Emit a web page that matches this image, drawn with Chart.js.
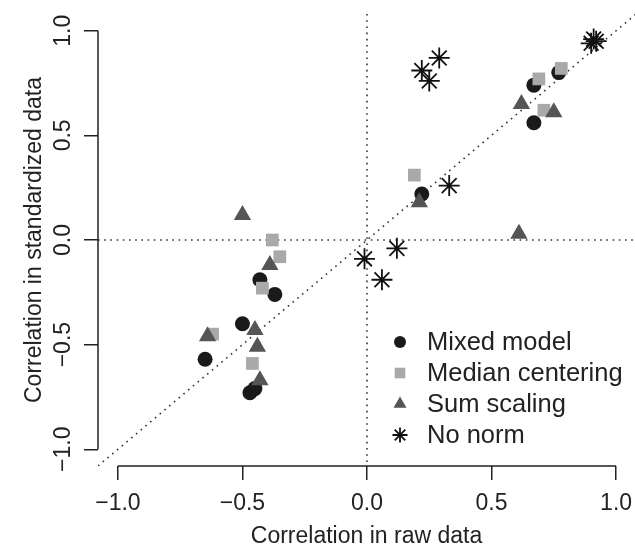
<!DOCTYPE html>
<html>
<head>
<meta charset="utf-8">
<script src="https://cdn.jsdelivr.net/npm/chart.js@4/dist/chart.umd.min.js"></script>
<style>
  html, body { margin: 0; padding: 0; background: #fff; }
  canvas { display: block; }
</style>
</head>
<body>
<canvas id="corrChart" width="635" height="550"></canvas>
<script>
// Values
const seriesNames = ['Mixed model', 'Median centering', 'Sum scaling', 'No norm'];

const mixedX = [-0.43, -0.37, -0.50, -0.65, -0.45, -0.47, 0.22, 0.67, 0.67, 0.77];
const mixedY = [-0.19, -0.26, -0.40, -0.57, -0.71, -0.73, 0.22, 0.56, 0.74, 0.80];

const medianX = [-0.38, -0.35, -0.42, -0.62, -0.46, 0.19, 0.69, 0.71, 0.78];
const medianY = [0.00, -0.08, -0.23, -0.45, -0.59, 0.31, 0.77, 0.62, 0.82];

const sumX = [-0.50, -0.39, -0.45, -0.64, -0.44, -0.43, 0.21, 0.61, 0.62, 0.75];
const sumY = [0.12, -0.12, -0.43, -0.46, -0.51, -0.67, 0.18, 0.03, 0.65, 0.61];

const noNormX = [-0.01, 0.06, 0.12, 0.33, 0.22, 0.25, 0.29, 0.90, 0.91, 0.92];
const noNormY = [-0.09, -0.19, -0.04, 0.26, 0.81, 0.76, 0.87, 0.94, 0.96, 0.95];

const xTicks = [-1, -0.5, 0, 0.5, 1];
const yTicks = [-1, -0.5, 0, 0.5, 1];

const FONT = "'Liberation Sans', Arial, Helvetica, sans-serif";
const INK = '#222';

function toPoints(xs, ys) {
    return xs.map((v, i) => ({ x: v, y: ys[i] }));
}

function fmtTick(v) {
    return v.toFixed(1).replace('-', '\u2212');
}

// marker look per series (also used by the legend)
const markers = [
    { pointStyle: 'circle',   radius: 7.5, legendRadius: 6,   fill: '#1a1a1a', stroke: '#1a1a1a', width: 0 },
    { pointStyle: 'rect',     radius: 9,   legendRadius: 7.5, fill: '#a9a9a9', stroke: '#a9a9a9', width: 0 },
    { pointStyle: 'triangle', radius: 10,  legendRadius: 7.5, fill: '#555555', stroke: '#555555', width: 0 },
    { pointStyle: 'star',     radius: 10.5, legendRadius: 7.5, fill: 'rgba(0,0,0,0)', stroke: '#111', width: 1.8 }
];

const seriesData = [
    toPoints(mixedX, mixedY),
    toPoints(medianX, medianY),
    toPoints(sumX, sumY),
    toPoints(noNormX, noNormY)
];

// dotted reference lines: y = x, x = 0, y = 0
const refLines = {
    id: 'refLines',
    beforeDatasetsDraw(chart) {
        const { ctx, chartArea: a, scales: { x, y } } = chart;
        ctx.save();
        ctx.beginPath();
        ctx.rect(a.left, a.top, a.right - a.left, a.bottom - a.top);
        ctx.clip();
        ctx.strokeStyle = '#333';
        ctx.lineWidth = 1.6;
        ctx.setLineDash([1.6, 4.6]);

        ctx.beginPath();
        const lo = Math.min(x.min, y.min), hi = Math.max(x.max, y.max);
        ctx.moveTo(x.getPixelForValue(lo), y.getPixelForValue(lo));
        ctx.lineTo(x.getPixelForValue(hi), y.getPixelForValue(hi));
        ctx.stroke();

        ctx.beginPath();
        ctx.moveTo(x.getPixelForValue(0), a.top);
        ctx.lineTo(x.getPixelForValue(0), a.bottom);
        ctx.stroke();

        ctx.beginPath();
        ctx.moveTo(a.left, y.getPixelForValue(0));
        ctx.lineTo(a.right, y.getPixelForValue(0));
        ctx.stroke();
        ctx.restore();
    }
};

// R-style axis lines that only run from the first to the last tick, plus the legend
const axesAndLegend = {
    id: 'axesAndLegend',
    afterDraw(chart) {
        const { ctx, chartArea: a, scales: { x, y } } = chart;
        ctx.save();
        ctx.strokeStyle = INK;
        ctx.lineWidth = 1.5;
        ctx.beginPath();
        ctx.moveTo(x.getPixelForValue(xTicks[0]), a.bottom);
        ctx.lineTo(x.getPixelForValue(xTicks[xTicks.length - 1]), a.bottom);
        ctx.moveTo(a.left, y.getPixelForValue(yTicks[0]));
        ctx.lineTo(a.left, y.getPixelForValue(yTicks[yTicks.length - 1]));
        ctx.stroke();

        // legend
        const symX = 400, textX = 427, rowY = [342, 373, 404, 435];
        ctx.font = '25.5px ' + FONT;
        ctx.textBaseline = 'middle';
        ctx.textAlign = 'left';
        seriesNames.forEach((name, i) => {
            const m = markers[i];
            ctx.fillStyle = m.fill;
            ctx.strokeStyle = m.stroke;
            ctx.lineWidth = m.width || 1.3;
            Chart.helpers.drawPoint(ctx, {
                pointStyle: m.pointStyle,
                radius: m.legendRadius,
                rotation: 0,
                borderWidth: m.width
            }, symX, rowY[i]);
            ctx.fillStyle = INK;
            ctx.fillText(name, textX, rowY[i] + 1);
        });
        ctx.restore();
    }
};

new Chart(document.getElementById('corrChart'), {
    type: 'scatter',
    data: {
        datasets: seriesNames.map((name, i) => ({
            label: name,
            data: seriesData[i],
            pointStyle: markers[i].pointStyle,
            pointRadius: markers[i].radius,
            backgroundColor: markers[i].fill,
            borderColor: markers[i].stroke,
            borderWidth: markers[i].width,
            order: seriesNames.length - i
        }))
    },
    options: {
        responsive: false,
        animation: false,
        events: [],
        layout: { padding: { top: 14, right: 0, bottom: 0, left: 0 }, autoPadding: false },
        plugins: {
            legend: { display: false },
            tooltip: { enabled: false }
        },
        scales: {
            x: {
                type: 'linear',
                min: -1.08,
                max: 1.076,
                afterBuildTicks: (scale) => { scale.ticks = xTicks.map(v => ({ value: v })); },
                afterFit: (scale) => {
                    scale.height = 84;
                    scale.paddingLeft = 0;
                    scale.paddingRight = 0;
                },
                grid: { drawOnChartArea: false, drawTicks: true, tickLength: 14, color: INK, lineWidth: 1.5 },
                border: { display: false },
                ticks: {
                    padding: 9.5,
                    maxRotation: 0,
                    color: INK,
                    font: { family: FONT, size: 23 },
                    callback: (v) => fmtTick(v)
                },
                title: {
                    display: true,
                    text: 'Correlation in raw data',
                    color: INK,
                    font: { family: FONT, size: 23 },
                    padding: { top: 5, bottom: 0 }
                }
            },
            y: {
                type: 'linear',
                min: -1.08,
                max: 1.08,
                afterBuildTicks: (scale) => { scale.ticks = yTicks.map(v => ({ value: v })); },
                afterFit: (scale) => {
                    scale.width = 98;
                    scale.paddingTop = 0;
                    scale.paddingBottom = 0;
                },
                grid: { drawOnChartArea: false, drawTicks: true, tickLength: 14, color: INK, lineWidth: 1.5 },
                border: { display: false },
                ticks: {
                    padding: -2.5,
                    minRotation: 90,
                    maxRotation: 90,
                    crossAlign: 'center',
                    color: INK,
                    font: { family: FONT, size: 23 },
                    callback: (v) => fmtTick(v)
                },
                title: {
                    display: true,
                    text: 'Correlation in standardized data',
                    color: INK,
                    font: { family: FONT, size: 23 },
                    padding: { top: 21, bottom: 12 }
                }
            }
        }
    },
    plugins: [refLines, axesAndLegend]
});
</script>
</body>
</html>
